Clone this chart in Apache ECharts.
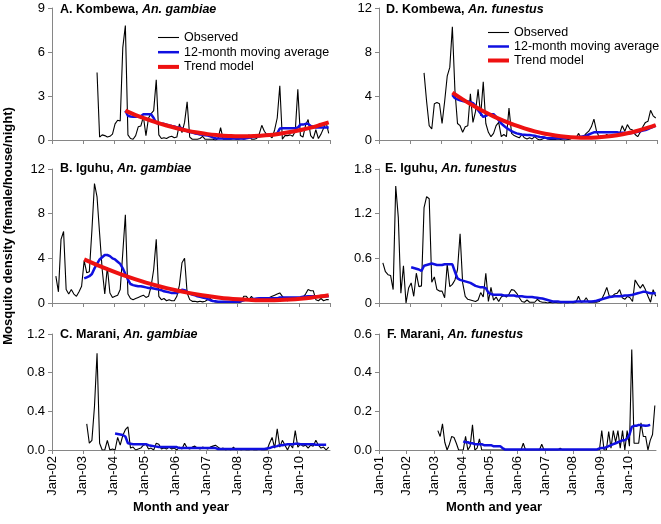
<!DOCTYPE html>
<html><head><meta charset="utf-8">
<script src="https://cdn.jsdelivr.net/npm/echarts@6/dist/echarts.min.js"></script>
<style>html,body{margin:0;padding:0;background:#fff}#c{width:661px;height:524px}</style>
</head><body><div id="c"></div>
<script>
// ---------- DATA ----------
const xTickLabels = ['Jan-01','Jan-02','Jan-03','Jan-04','Jan-05','Jan-06','Jan-07','Jan-08','Jan-09','Jan-10'];
const seriesNames = ['Observed','12-month moving average','Trend model'];
const xAxisTitle = 'Month and year';
const yAxisTitle = 'Mosquito density (female/house/night)';

// A. Kombewa, An. gambiae
const A_obsStart = '2003-06';
const A_obs = [4.6,0.2,0.35,0.3,0.2,0.25,0.4,1.1,1.35,1.3,6.3,7.8,
  0.35,0.1,0.05,0.3,0.9,0.95,1.6,0.3,1.5,1.8,2.0,4.1,
  0.35,0.1,0.15,0.1,0.2,0.25,0.15,0.2,1.1,0.5,1.2,2.6,
  0.2,0.05,0.05,0.05,0.1,0.25,0.05,0.05,0.05,0.05,0.0,0.1,
  0.85,0.05,0.05,0.05,0.05,0.1,0.05,0.05,0.1,0.05,0.1,0.35,
  0.05,0.05,0.1,0.4,1.0,0.6,0.35,0.3,0.15,0.7,1.5,3.7,
  0.05,0.3,0.3,0.35,0.25,0.6,3.45,0.3,0.2,1.0,1.4,0.3,
  0.1,0.7,0.1,0.4,0.8,1.2,0.45];
const A_maStart = '2004-05';
const A_ma = [2.0,1.65,1.6,1.58,1.58,1.6,1.62,1.75,1.75,1.75,1.75,1.5,
  1.15,1.12,1.1,1.1,1.05,1.0,0.95,0.92,0.85,0.85,0.8,0.7,
  0.6,0.55,0.5,0.45,0.42,0.38,0.35,0.32,0.3,0.25,0.18,0.12,
  0.1,0.1,0.1,0.1,0.1,0.1,0.1,0.1,0.1,0.1,0.1,0.12,
  0.15,0.18,0.2,0.22,0.25,0.3,0.32,0.35,0.37,0.38,0.4,0.45,
  0.78,0.8,0.8,0.8,0.8,0.8,0.8,0.85,1.05,1.05,1.1,1.1,
  0.95,0.9,0.85,0.85,0.85,0.85,0.85,0.85];
const trendMonthsAD = ['2004-05','2004-09','2005-01','2005-05','2005-09','2006-01','2006-05','2006-09','2007-01','2007-05','2007-09','2008-01','2008-05','2008-09','2009-01','2009-05','2009-09','2010-01','2010-05','2010-09','2010-12'];
const A_trend = [2.0,1.7,1.44,1.2,0.99,0.8,0.64,0.51,0.4,0.33,0.28,0.25,0.26,0.29,0.34,0.43,0.54,0.68,0.84,1.04,1.2];

// B. Iguhu, An. gambiae
const B_obsStart = '2002-02';
const B_obs = [2.4,1.0,5.7,6.4,1.2,0.8,1.2,0.8,0.6,1.0,1.5,3.8,
  2.7,2.8,6.5,10.7,9.5,6.2,3.0,0.8,3.2,0.9,0.5,0.6,
  0.7,1.2,4.5,7.9,0.8,0.4,0.3,0.4,0.5,0.6,0.7,0.5,
  0.6,1.5,3.0,5.7,0.6,0.3,0.4,0.2,0.3,0.2,0.2,0.6,
  1.6,3.6,4.0,0.9,0.3,0.15,0.15,0.1,0.15,0.1,0.15,0.3,
  0.4,0.15,0.1,0.1,0.05,0.05,0.1,0.05,0.05,0.1,0.05,0.05,
  0.1,0.6,0.6,0.3,0.6,0.2,0.3,0.4,0.3,0.3,0.4,0.5,
  0.6,0.7,0.8,0.9,0.6,0.3,0.2,0.3,0.35,0.4,0.3,0.35,
  0.5,0.8,1.2,1.1,1.1,0.3,0.2,0.4,0.2,0.3,0.3];
const B_maStart = '2003-01';
const B_ma = [2.2,2.3,2.4,2.6,3.1,3.5,3.9,4.1,4.3,4.3,4.2,4.0,
  3.9,3.7,3.5,3.1,2.6,2.1,1.7,1.6,1.55,1.5,1.5,1.45,
  1.4,1.35,1.35,1.3,1.25,1.2,1.15,1.05,1.0,0.95,0.9,0.9,
  0.9,1.0,1.2,1.15,1.0,0.85,0.75,0.7,0.6,0.55,0.5,0.45,
  0.35,0.25,0.18,0.15,0.12,0.12,0.12,0.12,0.12,0.12,0.12,0.12,
  0.12,0.18,0.25,0.3,0.32,0.35,0.37,0.4,0.42,0.42,0.42,0.42,
  0.42,0.42,0.42,0.42,0.5,0.5,0.5,0.5,0.5,0.5,0.5,0.5,
  0.52,0.55,0.58,0.6,0.6,0.6,0.6,0.6,0.6,0.6,0.6,0.6];
const trendMonthsB = ['2003-01','2003-05','2003-09','2004-01','2004-05','2004-09','2005-01','2005-05','2005-09','2006-01','2006-05','2006-09','2007-01','2007-05','2007-09','2008-01','2008-05','2008-09','2009-01','2009-05','2009-09','2010-01','2010-05','2010-09','2010-12'];
const B_trend = [3.9,3.5,3.12,2.76,2.43,2.12,1.83,1.57,1.33,1.12,0.93,0.76,0.62,0.5,0.4,0.33,0.28,0.25,0.25,0.27,0.32,0.39,0.48,0.6,0.7];

// C. Marani, An. gambiae
const C_obsStart = '2003-02';
const C_obs = [0.27,0.07,0.1,0.45,1.0,0.07,0.0,0.0,0.1,0.0,0.01,0.0,
  0.13,0.05,0.15,0.21,0.24,0.02,0.03,0.0,0.01,0.02,0.05,0.06,
  0.01,0.02,0.0,0.07,0.06,0.01,0.02,0.01,0.03,0.01,0.02,0.0,
  0.03,0.01,0.07,0.02,0.01,0.03,0.04,0.02,0.01,0.03,0.02,0.01,
  0.03,0.04,0.05,0.03,0.01,0.02,0.0,0.01,0.0,0.03,0.0,0.01,
  0.0,0.01,0.0,0.0,0.01,0.0,0.0,0.01,0.0,0.0,0.0,0.07,
  0.13,0.02,0.22,0.03,0.1,0.05,0.0,0.06,0.02,0.2,0.03,0.06,
  0.04,0.05,0.02,0.05,0.04,0.1,0.05,0.02,0.03,0.0,0.03];
const C_maStart = '2004-01';
const C_ma = [0.17,0.165,0.16,0.155,0.14,0.07,0.065,0.06,0.06,0.06,0.06,0.06,
  0.06,0.05,0.045,0.04,0.035,0.03,0.03,0.03,0.03,0.03,0.03,0.03,
  0.03,0.02,0.02,0.02,0.02,0.02,0.02,0.02,0.02,0.02,0.02,0.02,
  0.02,0.02,0.02,0.02,0.01,0.01,0.01,0.01,0.01,0.01,0.01,0.01,
  0.01,0.01,0.01,0.01,0.01,0.01,0.01,0.01,0.01,0.01,0.01,0.015,
  0.02,0.03,0.035,0.04,0.05,0.05,0.055,0.06,0.06,0.06,0.065,0.065,
  0.06,0.06,0.06,0.06,0.06,0.06,0.055,0.055,0.055,0.055,0.055];

// D. Kombewa, An. funestus
const D_obsStart = '2003-06';
const D_obs = [6.1,3.5,1.3,1.0,3.3,3.4,3.3,1.5,3.5,5.8,6.6,10.3,
  4.5,1.5,1.3,0.7,1.2,1.3,4.2,1.6,2.6,4.6,2.2,5.3,
  1.5,0.7,0.3,0.6,1.3,1.6,0.3,0.5,0.3,2.9,0.6,0.4,
  0.3,0.2,0.5,0.2,0.1,0.2,0.1,0.3,0.1,0.0,0.1,0.2,
  0.1,0.05,0.05,0.05,0.1,0.05,0.0,0.0,0.05,0.1,0.3,0.15,
  0.6,0.2,0.3,0.6,0.8,1.2,1.9,0.8,0.3,0.4,0.3,0.5,
  0.3,0.3,0.5,0.4,0.6,1.3,0.8,1.4,1.0,0.9,0.5,0.3,
  0.7,1.2,1.6,1.7,2.7,2.2,2.0];
const D_maStart = '2004-05';
const D_ma = [4.1,3.8,3.7,3.6,3.55,3.5,3.5,3.45,3.35,3.1,2.7,2.4,
  2.1,2.2,2.3,2.35,2.35,2.1,1.8,1.5,1.3,1.1,0.95,0.8,
  0.7,0.6,0.55,0.5,0.48,0.46,0.45,0.42,0.38,0.33,0.28,0.25,
  0.22,0.15,0.15,0.15,0.15,0.15,0.15,0.15,0.15,0.18,0.2,0.22,
  0.25,0.28,0.3,0.35,0.4,0.5,0.6,0.7,0.7,0.7,0.7,0.7,
  0.7,0.7,0.7,0.7,0.7,0.65,0.65,0.65,0.6,0.6,0.65,0.7,
  0.75,0.8,0.85,0.9,1.0,1.1,1.2,1.3];
const D_trend = [4.3,3.69,3.13,2.62,2.15,1.74,1.37,1.06,0.79,0.57,0.41,0.29,0.22,0.2,0.23,0.31,0.44,0.61,0.84,1.12,1.36];

// E. Iguhu, An. funestus
const E_obsStart = '2002-02';
const E_obs = [0.54,0.42,0.38,0.37,0.18,1.57,1.15,0.13,0.5,0.0,0.2,0.27,
  0.09,0.4,0.22,0.23,1.28,1.43,1.4,0.28,0.35,0.18,0.16,0.16,
  0.07,0.52,0.22,0.25,0.31,0.45,0.93,0.27,0.09,0.05,0.04,0.03,
  0.02,0.04,0.14,0.08,0.4,0.02,0.21,0.04,0.08,0.02,0.08,0.1,
  0.08,0.12,0.18,0.17,0.13,0.07,0.02,0.01,0.04,0.01,0.01,0.01,
  0.05,0.02,0.01,0.01,0.0,0.01,0.0,0.01,0.0,0.0,0.01,0.0,
  0.0,0.01,0.0,0.01,0.09,0.01,0.02,0.07,0.01,0.01,0.01,0.01,
  0.02,0.05,0.12,0.21,0.09,0.09,0.12,0.13,0.18,0.07,0.05,0.09,
  0.07,0.02,0.31,0.25,0.2,0.25,0.18,0.09,0.01,0.18,0.09];
const E_maStart = '2003-01';
const E_ma = [0.48,0.47,0.46,0.45,0.43,0.5,0.51,0.52,0.53,0.52,0.51,0.51,
  0.51,0.52,0.52,0.52,0.52,0.42,0.33,0.31,0.3,0.29,0.28,0.27,
  0.25,0.23,0.22,0.21,0.21,0.2,0.14,0.12,0.11,0.11,0.11,0.11,
  0.1,0.1,0.1,0.1,0.1,0.09,0.09,0.09,0.085,0.08,0.08,0.08,
  0.075,0.07,0.065,0.06,0.05,0.04,0.03,0.02,0.02,0.02,0.015,0.015,
  0.015,0.015,0.015,0.015,0.02,0.02,0.02,0.02,0.02,0.02,0.02,0.025,
  0.03,0.04,0.05,0.06,0.07,0.08,0.085,0.09,0.09,0.09,0.095,0.1,
  0.1,0.105,0.11,0.12,0.13,0.14,0.15,0.15,0.14,0.13,0.13,0.13];

// F. Marani, An. funestus
const F_obsStart = '2003-02';
const F_obs = [0.1,0.07,0.135,0.04,0.0,0.03,0.07,0.065,0.035,0.0,0.0,0.0,
  0.07,0.0,0.02,0.13,0.0,0.01,0.057,0.0,0.0,0.0,0.0,0.0,
  0.0,0.0,0.0,0.0,0.0,0.0,0.0,0.0,0.0,0.0,0.0,0.0,
  0.0,0.035,0.0,0.0,0.0,0.0,0.0,0.0,0.0,0.03,0.0,0.0,
  0.0,0.0,0.0,0.0,0.0,0.01,0.0,0.0,0.0,0.0,0.0,0.0,
  0.0,0.0,0.0,0.0,0.0,0.0,0.0,0.0,0.0,0.0,0.0,0.1,
  0.0,0.0,0.095,0.01,0.1,0.04,0.1,0.01,0.1,0.0,0.1,0.02,
  0.52,0.035,0.035,0.035,0.14,0.07,0.07,0.0,0.05,0.08,0.23];
const F_maStart = '2004-01';
const F_ma = [0.045,0.04,0.04,0.035,0.035,0.03,0.03,0.03,0.03,0.025,0.025,0.025,
  0.025,0.02,0.02,0.02,0.02,0.01,0.003,0.003,0.003,0.003,0.003,0.003,
  0.003,0.003,0.003,0.003,0.003,0.003,0.003,0.003,0.003,0.003,0.003,0.003,
  0.003,0.003,0.003,0.003,0.003,0.003,0.003,0.003,0.003,0.003,0.003,0.003,
  0.003,0.003,0.003,0.003,0.003,0.003,0.003,0.003,0.003,0.003,0.003,0.008,
  0.01,0.01,0.015,0.02,0.025,0.03,0.035,0.04,0.045,0.05,0.05,0.06,
  0.08,0.12,0.125,0.125,0.13,0.128,0.127,0.125,0.127,0.13];

const yTicksA = ['0','3','6','9'];
const yTicksB = ['0','4','8','12'];
const yTicksC = ['0.0','0.4','0.8','1.2'];
const yTicksD = ['0','4','8','12'];
const yTicksE = ['0','0.6','1.2','1.8'];
const yTicksF = ['0.0','0.2','0.4','0.6'];

// ---------- BUILD ----------
const FONT = '"Liberation Sans", Arial, sans-serif';
const COL = {obs:'#000000', ma:'#1010e0', trend:'#ee1111'};
const LW = {obs:1.1, ma:2.5, trend:4};
function mi(s){ const p = s.split('-'); return (+p[0]-2001)*12 + (+p[1]-1); }
function seq(start, vals){ const m0 = mi(start); return vals.map((v,i)=>[m0+i+0.5, v]); }
function pts(months, vals){ return vals.map((v,i)=>[mi(months[i])+0.5, v]); }

const panels = [
  {title:['A. Kombewa, ','An. gambiae'], grid:{left:52,top:8,width:278,height:132}, xmin:12, ymax:9, yint:3, yt:yTicksA, labels:false,
   obs:seq(A_obsStart,A_obs), ma:seq(A_maStart,A_ma), trend:pts(trendMonthsAD,A_trend), tpos:[60,3]},
  {title:['B. Iguhu, ','An. gambiae'], grid:{left:52,top:169,width:278,height:134}, xmin:12, ymax:12, yint:4, yt:yTicksB, labels:false,
   obs:seq(B_obsStart,B_obs), ma:seq(B_maStart,B_ma), trend:pts(trendMonthsB,B_trend), tpos:[60,162]},
  {title:['C. Marani, ','An. gambiae'], grid:{left:52,top:334,width:278,height:116}, xmin:12, ymax:1.2, yint:0.4, yt:yTicksC, labels:true,
   obs:seq(C_obsStart,C_obs), ma:seq(C_maStart,C_ma), trend:null, tpos:[60,328]},
  {title:['D. Kombewa, ','An. funestus'], grid:{left:379,top:8,width:278,height:132}, xmin:12, ymax:12, yint:4, yt:yTicksD, labels:false,
   obs:seq(D_obsStart,D_obs), ma:seq(D_maStart,D_ma), trend:pts(trendMonthsAD,D_trend), tpos:[386,3]},
  {title:['E. Iguhu, ','An. funestus'], grid:{left:379,top:169,width:278,height:134}, xmin:12, ymax:1.8, yint:0.6, yt:yTicksE, labels:false,
   obs:seq(E_obsStart,E_obs), ma:seq(E_maStart,E_ma), trend:null, tpos:[385,162]},
  {title:['F. Marani, ','An. funestus'], grid:{left:379,top:334,width:277,height:116}, xmin:0, ymax:0.6, yint:0.2, yt:yTicksF, labels:true,
   obs:seq(F_obsStart,F_obs), ma:seq(F_maStart,F_ma), trend:null, tpos:[387,328]}
];

const AXC = '#868686';
const legendItems = [
  {name:seriesNames[0], lineStyle:{width:LW.obs, color:COL.obs}},
  {name:seriesNames[1], lineStyle:{width:LW.ma, color:COL.ma}},
  {name:seriesNames[2], lineStyle:{width:LW.trend, color:COL.trend}}
];
const legendBase = {orient:'vertical', itemWidth:21, itemHeight:14, padding:0, selectedMode:false, data:legendItems,
  itemStyle:{opacity:0, borderWidth:0},
  textStyle:{fontFamily:FONT,fontSize:12.5,color:'#000'}};
const option = {
  animation:false,
  backgroundColor:'#fff',
  textStyle:{fontFamily:FONT},
  title: panels.map(p=>({
    text:'{n|'+p.title[0]+'}{i|'+p.title[1]+'}', left:p.tpos[0], top:p.tpos[1], padding:0,
    textStyle:{rich:{n:{fontFamily:FONT,fontSize:12.5,fontWeight:'bold',color:'#000'},
                     i:{fontFamily:FONT,fontSize:12.5,fontWeight:'bold',fontStyle:'italic',color:'#000'}}}
  })),
  legend:[
    Object.assign({left:156, top:31, itemGap:1.7}, legendBase),
    Object.assign({left:486, top:26, itemGap:1}, legendBase)
  ],
  grid: panels.map(p=>Object.assign({containLabel:false}, p.grid)),
  xAxis: panels.map((p,i)=>({
    type:'value', gridIndex:i, min:p.xmin, max:120, interval:12,
    axisLine:{show:true,lineStyle:{color:AXC,width:1}},
    axisTick:{show:true,length:4,lineStyle:{color:AXC}},
    splitLine:{show:false},
    axisLabel:{show:p.labels, rotate:90, margin:6, fontSize:13, color:'#000', fontFamily:FONT, showMaxLabel:false,
      formatter:v=> (v<120 && v%12===0) ? (xTickLabels[v/12]||'') : ''}
  })),
  yAxis: panels.map((p,i)=>({
    type:'value', gridIndex:i, min:0, max:p.ymax, interval:p.yint,
    axisLine:{show:true,lineStyle:{color:AXC,width:1}},
    axisTick:{show:true,length:4,lineStyle:{color:AXC}},
    splitLine:{show:false},
    axisLabel:{margin:7, fontSize:13, color:'#000', fontFamily:FONT,
      formatter:(v)=> p.yt[Math.round(v/p.yint)] }
  })),
  series: []
};
panels.forEach((p,i)=>{
  option.series.push({name:seriesNames[0], type:'line', xAxisIndex:i, yAxisIndex:i, data:p.obs, symbol:'none',
    lineStyle:{color:COL.obs,width:LW.obs}, itemStyle:{color:COL.obs}, z:2});
  option.series.push({name:seriesNames[1], type:'line', xAxisIndex:i, yAxisIndex:i, data:p.ma, symbol:'none',
    lineStyle:{color:COL.ma,width:LW.ma}, itemStyle:{color:COL.ma}, z:3});
  if(p.trend) option.series.push({name:seriesNames[2], type:'line', xAxisIndex:i, yAxisIndex:i, data:p.trend, symbol:'none', smooth:0.4,
    lineStyle:{color:COL.trend,width:LW.trend}, itemStyle:{color:COL.trend}, z:4});
});
option.graphic = [
  {type:'text', x:8, y:226, rotation:Math.PI/2, style:{text:yAxisTitle, fontFamily:FONT, fontSize:13, fontWeight:'bold', fill:'#000', align:'center', verticalAlign:'middle'}},
  {type:'text', x:181, y:507, style:{text:xAxisTitle, fontFamily:FONT, fontSize:13, fontWeight:'bold', fill:'#000', align:'center', verticalAlign:'middle'}},
  {type:'text', x:494, y:507, style:{text:xAxisTitle, fontFamily:FONT, fontSize:13, fontWeight:'bold', fill:'#000', align:'center', verticalAlign:'middle'}}
];
const chart = echarts.init(document.getElementById('c'), null, {renderer:'canvas'});
chart.setOption(option);
</script>
</body></html>
